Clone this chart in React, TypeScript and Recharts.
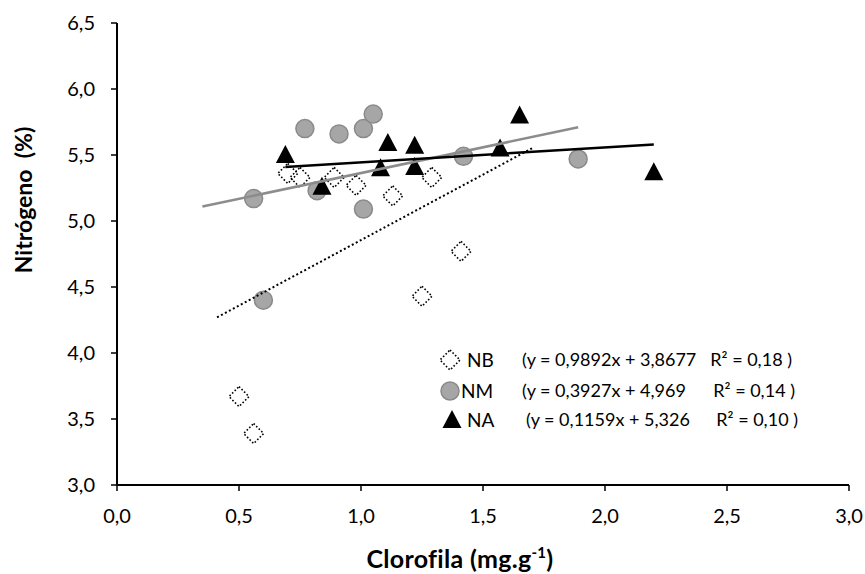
import React from "react";
import {
  ScatterChart,
  Scatter,
  XAxis,
  YAxis,
  Legend,
} from "recharts";

// NB (diamonds)
const nbX = [0.5, 0.56, 0.7, 0.75, 0.89, 0.98, 1.13, 1.25, 1.29, 1.41];
const nbY = [3.67, 3.39, 5.36, 5.33, 5.33, 5.27, 5.19, 4.43, 5.33, 4.77];
// NM (circles)
const nmX = [0.56, 0.6, 0.77, 0.82, 0.91, 1.01, 1.01, 1.05, 1.42, 1.89];
const nmY = [5.17, 4.4, 5.7, 5.23, 5.66, 5.7, 5.09, 5.81, 5.49, 5.47];
// NA (triangles)
const naX = [0.69, 0.84, 1.08, 1.11, 1.22, 1.22, 1.57, 1.65, 2.2];
const naY = [5.5, 5.26, 5.4, 5.59, 5.57, 5.41, 5.55, 5.8, 5.37];

// trend line end points
const nbTrendX = [0.41, 1.71];
const nbTrendY = [4.27, 5.56];
const nmTrendX = [0.35, 1.89];
const nmTrendY = [5.11, 5.71];
const naTrendX = [0.69, 2.2];
const naTrendY = [5.41, 5.58];

const xTicks = [0, 0.5, 1, 1.5, 2, 2.5, 3];
const yTicks = [3, 3.5, 4, 4.5, 5, 5.5, 6, 6.5];

const legendRows = [
  { name: "NB", eq: "(y = 0,9892x + 3,8677", r2: "R² = 0,18 )" },
  { name: "NM", eq: "(y = 0,3927x + 4,969", r2: "R² = 0,14 )" },
  { name: "NA", eq: "(y = 0,1159x + 5,326", r2: "R² = 0,10 )" },
];

const zip = (xs: number[], ys: number[]) => xs.map((x, i) => ({ x, y: ys[i] }));

const font = "Lato, 'Noto Sans', sans-serif";
const fmt = (v: number) => v.toFixed(1).replace(".", ",");

function Diamond({ cx, cy }: any) {
  const s = 10;
  return (
    <path
      d={`M${cx},${cy - s} L${cx + s},${cy} L${cx},${cy + s} L${cx - s},${cy} Z`}
      fill="none"
      stroke="#000"
      strokeWidth={1.6}
      strokeDasharray="1.6 2"
    />
  );
}

function Dot({ cx, cy }: any) {
  return <circle cx={cx} cy={cy} r={9} fill="#a6a6a6" stroke="#8a8a8a" strokeWidth={1.5} />;
}

function Tri({ cx, cy }: any) {
  return (
    <path
      d={`M${cx},${cy - 10} L${cx + 9.5},${cy + 8} L${cx - 9.5},${cy + 8} Z`}
      fill="#000"
    />
  );
}

const Empty = () => <g />;

function XTick({ x, y, payload }: any) {
  return (
    <text x={x} y={y + 30} textAnchor="middle" fontFamily={font} fontSize={20} fill="#000">
      {fmt(payload.value)}
    </text>
  );
}

function YTick({ x, y, payload }: any) {
  return (
    <text x={x - 14} y={y + 7} textAnchor="end" fontFamily={font} fontSize={20} fill="#000">
      {fmt(payload.value)}
    </text>
  );
}

function LegendBox() {
  const rowY = [20, 51, 80];
  return (
    <svg width={380} height={100} style={{ display: "block" }}>
      {legendRows.map((r, i) => {
        const cy = rowY[i];
        let marker;
        if (i === 0) marker = <Diamond cx={10} cy={cy} />;
        else if (i === 1) marker = <Dot cx={10} cy={cy} />;
        else marker = <Tri cx={12} cy={cy} />;
        return (
          <g key={r.name} fontFamily={font} fontSize={19} fill="#000">
            {marker}
            <text x={i === 1 ? 21 : 27} y={cy + 7}>{r.name}</text>
            <text x={i === 2 ? 86 : 82} y={cy + 6} fontSize={18}>{r.eq}</text>
            <text x={[352, 355, 358][i]} y={cy + 6} fontSize={18} textAnchor="end">{r.r2}</text>
          </g>
        );
      })}
    </svg>
  );
}

export default function App() {
  return (
    <div style={{ position: "absolute", left: 0, top: 0, width: 865, height: 574, background: "#fff" }}>
      <ScatterChart width={865} height={574} margin={{ top: 23, right: 16, left: 57, bottom: 59 }}>
        <XAxis
          type="number"
          dataKey="x"
          domain={[0, 3]}
          ticks={xTicks}
          interval={0}
          height={30}
          axisLine={{ stroke: "#000", strokeWidth: 2 }}
          tickLine={{ stroke: "#000", strokeWidth: 1.5 }}
          tickSize={6}
          tick={<XTick />}
          label={{
            content: () => (
              <text x={460} y={568} textAnchor="middle" fontFamily={font} fontSize={25} fontWeight="bold" fill="#000" letterSpacing={0.3}>
                Clorofila (mg.g
                <tspan dy={-10} fontSize={15}>-1</tspan>
                <tspan dy={10}>)</tspan>
              </text>
            ),
          }}
        />
        <YAxis
          type="number"
          dataKey="y"
          domain={[3, 6.5]}
          ticks={yTicks}
          interval={0}
          width={60}
          axisLine={{ stroke: "#000", strokeWidth: 2 }}
          tickLine={{ stroke: "#000", strokeWidth: 1.5 }}
          tickSize={6}
          tick={<YTick />}
          label={{
            content: () => (
              <text
                x={0}
                y={0}
                transform="translate(32,200) rotate(-90)"
                textAnchor="middle"
                fontFamily={font}
                fontSize={23}
                fontWeight="bold"
                fill="#000"
                style={{ whiteSpace: "pre" }}
              >
                Nitrógeno  (%)
              </text>
            ),
          }}
        />
        <Legend
          layout="horizontal"
          verticalAlign="middle"
          align="center"
          wrapperStyle={{ position: "absolute", left: 440, top: 340, width: 380, height: 100 }}
          content={() => <LegendBox />}
        />
        <Scatter name="NB" data={zip(nbX, nbY)} shape={<Diamond />} isAnimationActive={false} />
        <Scatter name="NM" data={zip(nmX, nmY)} shape={<Dot />} isAnimationActive={false} />
        <Scatter name="NA" data={zip(naX, naY)} shape={<Tri />} isAnimationActive={false} />
        <Scatter
          data={zip(nmTrendX, nmTrendY)}
          shape={<Empty />}
          line={{ stroke: "#8c8c8c", strokeWidth: 2.5 }}
          lineType="joint"
          isAnimationActive={false}
          legendType="none"
        />
        <Scatter
          data={zip(naTrendX, naTrendY)}
          shape={<Empty />}
          line={{ stroke: "#000", strokeWidth: 2.5 }}
          lineType="joint"
          isAnimationActive={false}
          legendType="none"
        />
        <Scatter
          data={zip(nbTrendX, nbTrendY)}
          shape={<Empty />}
          line={{ stroke: "#000", strokeWidth: 2, strokeDasharray: "2 2.5" }}
          lineType="joint"
          isAnimationActive={false}
          legendType="none"
        />
      </ScatterChart>
    </div>
  );
}
